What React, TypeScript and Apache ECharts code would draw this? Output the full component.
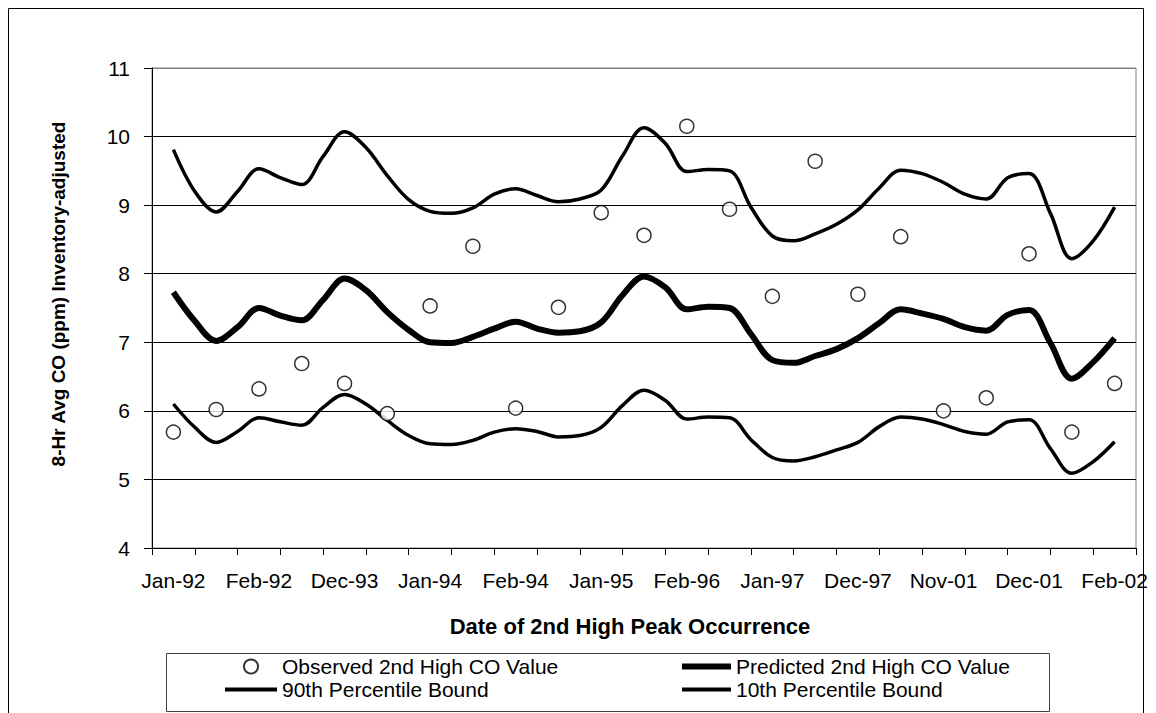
import React, { useEffect, useRef } from "react";
import * as echarts from "echarts";

// Visible x tick labels (every other category)
const tickLabels = [
  "Jan-92", "Feb-92", "Dec-93", "Jan-94", "Feb-94", "Jan-95",
  "Feb-96", "Jan-97", "Dec-97", "Nov-01", "Dec-01", "Feb-02",
];

// Observed 2nd high CO value, one per category (23 categories)
const observed = [
  5.69, 6.02, 6.32, 6.69, 6.40, 5.96, 7.53, 8.40, 6.04, 7.51, 8.89, 8.56,
  10.15, 8.94, 7.67, 9.64, 7.70, 8.54, 6.00, 6.19, 8.29, 5.69, 6.40,
];

// Curves sampled at half-category steps (45 points)
const predicted = [
  7.73, 7.31, 7.02, 7.22, 7.50, 7.39, 7.32, 7.62, 7.93, 7.76, 7.44, 7.18,
  7.00, 6.99, 7.08, 7.20, 7.30, 7.20, 7.14, 7.16, 7.29, 7.69, 7.96, 7.80,
  7.48, 7.52, 7.50, 7.12, 6.74, 6.70, 6.80, 6.90, 7.06, 7.28, 7.48, 7.42,
  7.34, 7.22, 7.17, 7.40, 7.47, 6.99, 6.47, 6.71, 7.06,
];

const upper90 = [
  9.81, 9.20, 8.90, 9.20, 9.53, 9.40, 9.30, 9.71, 10.07, 9.84, 9.43, 9.08,
  8.91, 8.88, 8.96, 9.16, 9.24, 9.14, 9.05, 9.09, 9.22, 9.72, 10.13, 9.90,
  9.49, 9.52, 9.50, 8.97, 8.55, 8.48, 8.58, 8.72, 8.93, 9.25, 9.51, 9.46,
  9.33, 9.16, 9.09, 9.40, 9.46, 8.88, 8.22, 8.48, 8.97,
];

const lower10 = [
  6.10, 5.76, 5.54, 5.70, 5.90, 5.84, 5.79, 6.05, 6.24, 6.10, 5.86, 5.64,
  5.52, 5.51, 5.57, 5.69, 5.74, 5.70, 5.62, 5.64, 5.76, 6.08, 6.30, 6.15,
  5.88, 5.91, 5.90, 5.58, 5.32, 5.27, 5.33, 5.43, 5.54, 5.77, 5.91, 5.88,
  5.80, 5.70, 5.66, 5.84, 5.87, 5.45, 5.09, 5.26, 5.55,
];

const FONT = "'Liberation Sans', Arial, sans-serif";
const HIDDEN = "rgba(0,0,0,0)";

export default function App() {
  const ref = useRef<HTMLDivElement>(null);

  useEffect(() => {
    if (!ref.current) return;
    const chart = echarts.init(ref.current, undefined, { renderer: "svg" });

    const categories = observed.map((_, i) => String(i));
    const toXY = (vals: number[]) => vals.map((v, i) => [i * 0.5, v]);

    const legendText = { fontSize: 21, color: "#000", fontFamily: FONT };

    const option: any = {
      animation: false,
      backgroundColor: "#fff",
      textStyle: { fontFamily: FONT, color: "#000" },
      grid: {
        left: 152,
        top: 68,
        width: 984,
        height: 480,
        show: true,
        borderColor: "#808080",
        borderWidth: 1,
        backgroundColor: "transparent",
      },
      xAxis: [
        {
          type: "category",
          data: categories,
          boundaryGap: true,
          axisLine: { show: true, onZero: false, lineStyle: { color: "#000", width: 1 } },
          axisTick: {
            show: true,
            interval: 0,
            length: 7,
            alignWithLabel: false,
            lineStyle: { color: "#000" },
          },
          axisLabel: {
            interval: 0,
            margin: 22,
            fontSize: 21,
            color: "#000",
            fontFamily: FONT,
            formatter: (_v: string, idx: number) =>
              idx % 2 === 0 ? tickLabels[idx / 2] : "",
          },
          splitLine: { show: false },
        },
        {
          type: "value",
          min: -0.5,
          max: 22.5,
          show: false,
          axisLine: { show: false, onZero: false },
          splitLine: { show: false },
        },
      ],
      yAxis: {
        type: "value",
        min: 4,
        max: 11,
        interval: 1,
        axisLine: { show: true, onZero: false, lineStyle: { color: "#000", width: 1 } },
        axisTick: { show: true, length: 8, lineStyle: { color: "#000" } },
        axisLabel: {
          margin: 22,
          fontSize: 21,
          color: "#000",
          fontFamily: FONT,
        },
        splitLine: {
          show: true,
          lineStyle: {
            color: ["#000", "#000", "#000", "#000", "#000", "#000", "#000", "#808080"],
            width: 1,
          },
        },
      },
      legend: [
        {
          data: [
            { name: "Observed 2nd High CO Value" },
            {
              name: "90th Percentile Bound",
              itemStyle: { color: HIDDEN, borderColor: HIDDEN, borderWidth: 0 },
              lineStyle: { color: "#000", width: 4 },
            },
          ],
          orient: "vertical",
          left: 223,
          top: 656,
          itemWidth: 52,
          itemHeight: 14,
          itemGap: 2,
          padding: 0,
          textStyle: legendText,
        },
        {
          data: [
            {
              name: "Predicted 2nd High CO Value",
              itemStyle: { color: HIDDEN, borderColor: HIDDEN, borderWidth: 0 },
              lineStyle: { color: "#000", width: 6 },
            },
            {
              name: "10th Percentile Bound",
              itemStyle: { color: HIDDEN, borderColor: HIDDEN, borderWidth: 0 },
              lineStyle: { color: "#000", width: 4 },
            },
          ],
          orient: "vertical",
          left: 679,
          top: 656,
          itemWidth: 49,
          itemHeight: 14,
          itemGap: 2,
          padding: 0,
          textStyle: legendText,
        },
      ],
      series: [
        {
          name: "90th Percentile Bound",
          type: "line",
          xAxisIndex: 1,
          data: toXY(upper90),
          smooth: 0.35,
          symbol: "none",
          lineStyle: { color: "#000", width: 3.5 },
          itemStyle: { color: "#000" },
        },
        {
          name: "Predicted 2nd High CO Value",
          type: "line",
          xAxisIndex: 1,
          data: toXY(predicted),
          smooth: 0.35,
          symbol: "none",
          lineStyle: { color: "#000", width: 6 },
          itemStyle: { color: "#000" },
        },
        {
          name: "10th Percentile Bound",
          type: "line",
          xAxisIndex: 1,
          data: toXY(lower10),
          smooth: 0.35,
          symbol: "none",
          lineStyle: { color: "#000", width: 3.5 },
          itemStyle: { color: "#000" },
        },
        {
          name: "Observed 2nd High CO Value",
          type: "scatter",
          xAxisIndex: 0,
          data: observed,
          symbol: "circle",
          symbolSize: 14,
          itemStyle: { color: "#fff", borderColor: "#000", borderWidth: 1.5 },
          z: 5,
        },
      ],
      graphic: [
        {
          type: "rect",
          shape: { x: 8.5, y: 8.5, width: 1135, height: 720 },
          style: { fill: "none", stroke: "#000", lineWidth: 1 },
          silent: true,
          z: -1,
        },
        {
          type: "rect",
          shape: { x: 166.5, y: 653.5, width: 883, height: 58 },
          style: { fill: "none", stroke: "#404040", lineWidth: 1 },
          silent: true,
        },
        {
          type: "text",
          x: 58,
          y: 294,
          rotation: Math.PI / 2,
          style: {
            text: "8-Hr Avg CO (ppm) Inventory-adjusted",
            fill: "#000",
            font: `bold 19px ${FONT}`,
            align: "center",
            verticalAlign: "middle",
          },
          silent: true,
        },
        {
          type: "text",
          x: 630,
          y: 626,
          style: {
            text: "Date of 2nd High Peak Occurrence",
            fill: "#000",
            font: `bold 22px ${FONT}`,
            align: "center",
            verticalAlign: "middle",
          },
          silent: true,
        },
      ],
    };

    chart.setOption(option);
    return () => chart.dispose();
  }, []);

  return (
    <div
      ref={ref}
      style={{ position: "absolute", left: 0, top: 0, width: 1156, height: 713 }}
    />
  );
}
